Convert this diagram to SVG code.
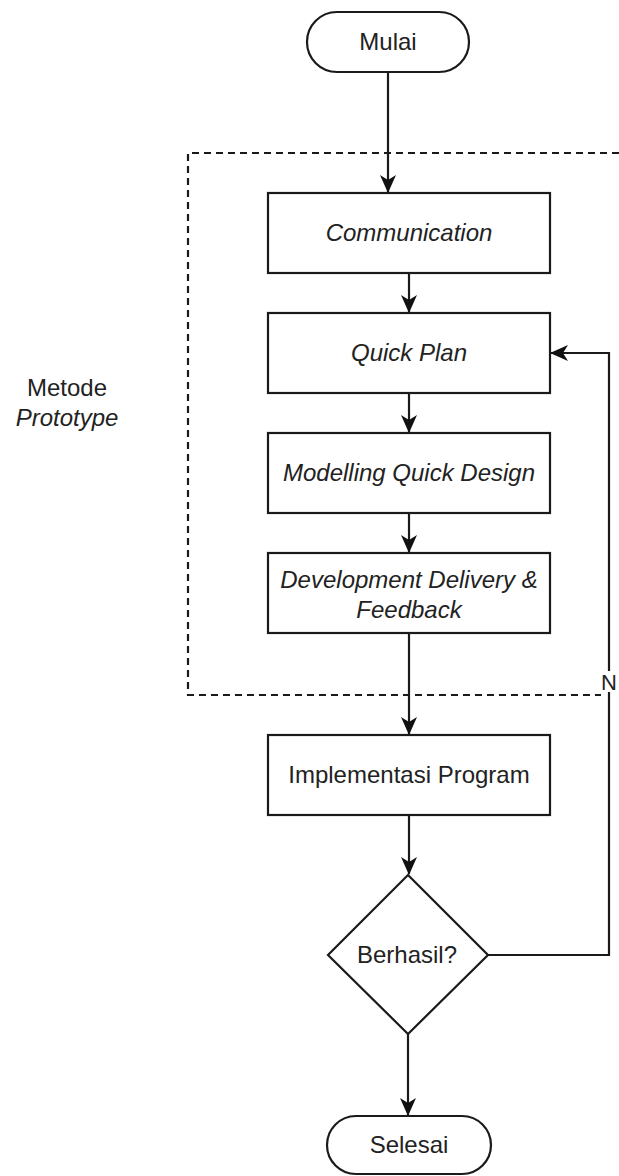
<svg xmlns="http://www.w3.org/2000/svg" width="619" height="1176" viewBox="0 0 619 1176">
  <style>
    .shape { fill: #ffffff; stroke: #1a1a1a; stroke-width: 2.2; }
    .lbl { font-family: "Liberation Sans", Arial, sans-serif; font-size: 24px; fill: #222222; text-anchor: middle; }
    .it { font-style: italic; }
    .edge { fill: none; stroke: #1a1a1a; stroke-width: 2.2; }
    .frame { fill: none; stroke: #1a1a1a; stroke-width: 2.2; stroke-dasharray: 7 5; }
  </style>
  <defs>
    <marker id="arrow" viewBox="0 0 18 16" refX="17" refY="8" markerWidth="18" markerHeight="16" markerUnits="userSpaceOnUse" orient="auto">
      <path d="M0,0 L18,8 L0,16 L5,8 Z" fill="#111111"/>
    </marker>
  </defs>
  <rect width="619" height="1176" fill="#ffffff"/>

  <!-- prototype method frame -->
  <g id="frame">
    <path class="frame" d="M619,153 H188 V695 H601"/>
    <text class="lbl" x="67" y="396">Metode</text>
    <text class="lbl it" x="67" y="426">Prototype</text>
  </g>

  <!-- connectors -->
  <g id="connectors">
    <path class="edge" d="M388,72 V192" marker-end="url(#arrow)"/>
    <path class="edge" d="M409,273 V312" marker-end="url(#arrow)"/>
    <path class="edge" d="M409,393 V432" marker-end="url(#arrow)"/>
    <path class="edge" d="M409,513 V552" marker-end="url(#arrow)"/>
    <path class="edge" d="M409,633 V734" marker-end="url(#arrow)"/>
    <path class="edge" d="M409,815 V874" marker-end="url(#arrow)"/>
    <path class="edge" d="M408,1034 V1115" marker-end="url(#arrow)"/>
    <path class="edge" d="M488,955 H609 V353 H551" marker-end="url(#arrow)"/>
    <rect x="601" y="671" width="17" height="21" fill="#ffffff"/>
    <text class="lbl" x="609" y="690" style="font-size:22px">N</text>
  </g>

  <g id="mulai">
    <rect class="shape" x="307" y="12" width="162" height="60" rx="30" ry="30"/>
    <text class="lbl" x="388" y="50">Mulai</text>
  </g>
  <g id="communication">
    <rect class="shape" x="268" y="193" width="282" height="80"/>
    <text class="lbl it" x="409" y="241">Communication</text>
  </g>
  <g id="quick-plan">
    <rect class="shape" x="268" y="313" width="282" height="80"/>
    <text class="lbl it" x="409" y="361">Quick Plan</text>
  </g>
  <g id="modelling">
    <rect class="shape" x="268" y="433" width="282" height="80"/>
    <text class="lbl it" x="409" y="481">Modelling Quick Design</text>
  </g>
  <g id="development">
    <rect class="shape" x="268" y="553" width="282" height="80"/>
    <text class="lbl it" x="409" y="588">Development Delivery &amp;</text>
    <text class="lbl it" x="409" y="618">Feedback</text>
  </g>
  <g id="implementasi">
    <rect class="shape" x="268" y="735" width="282" height="80"/>
    <text class="lbl" x="409" y="783">Implementasi Program</text>
  </g>
  <g id="berhasil">
    <path class="shape" d="M408,875 L488,955 L408,1034 L328,955 Z"/>
    <text class="lbl" x="407" y="963">Berhasil?</text>
  </g>
  <g id="selesai">
    <rect class="shape" x="327" y="1116" width="164" height="58" rx="29" ry="29"/>
    <text class="lbl" x="409" y="1153">Selesai</text>
  </g>
</svg>
